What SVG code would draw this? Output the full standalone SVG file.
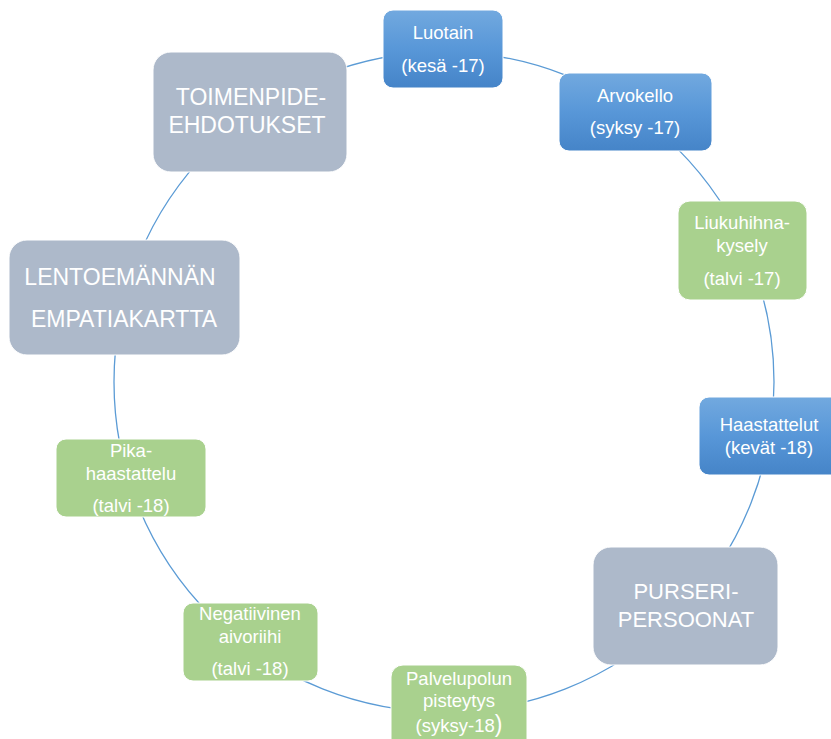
<svg xmlns="http://www.w3.org/2000/svg" width="831" height="739" viewBox="0 0 831 739">
  <defs>
    <linearGradient id="blueFill" x1="0" y1="0" x2="0" y2="1">
      <stop offset="0" stop-color="#72a9df"/>
      <stop offset="0.5" stop-color="#5897d8"/>
      <stop offset="1" stop-color="#4584c8"/>
    </linearGradient>
    <style>
      .blue { fill: url(#blueFill); stroke: #ffffff; stroke-width: 1; }
      .green { fill: #a9d18e; stroke: #ffffff; stroke-width: 1; }
      .gray { fill: #adb9ca; stroke: #ffffff; stroke-width: 1; }
      .sm { font-family: "Liberation Sans", Arial, sans-serif; font-size: 18.5px; fill: #ffffff; text-anchor: middle; }
      .lg { font-family: "Liberation Sans", Arial, sans-serif; font-size: 23px; fill: #ffffff; text-anchor: middle; }
      .ring { fill: none; stroke: #5b9bd5; stroke-width: 1.3; }
    </style>
  </defs>
  <rect width="831" height="739" fill="#ffffff"/>

  <!-- cycle connector drawn as one ring behind the nodes -->
  <g id="connectors">
    <circle class="ring" cx="444" cy="382" r="330"/>
  </g>

  <g id="luotain">
    <rect class="blue" x="383" y="10" width="120" height="78" rx="10"/>
    <text class="sm" x="443" y="39">Luotain</text>
    <text class="sm" x="443" y="72">(kesä -17)</text>
  </g>

  <g id="arvokello">
    <rect class="blue" x="559" y="73" width="153" height="78" rx="10"/>
    <text class="sm" x="635" y="102">Arvokello</text>
    <text class="sm" x="635" y="134">(syksy -17)</text>
  </g>

  <g id="liukuhihna">
    <rect class="green" x="678" y="201" width="129" height="99" rx="12"/>
    <text class="sm" x="742" y="229">Liukuhihna-</text>
    <text class="sm" x="742" y="252">kysely</text>
    <text class="sm" x="742" y="285">(talvi -17)</text>
  </g>

  <g id="haastattelut">
    <rect class="blue" x="699" y="397" width="142" height="78" rx="10"/>
    <text class="sm" x="769" y="431">Haastattelut</text>
    <text class="sm" x="769" y="454">(kevät -18)</text>
  </g>

  <g id="purseri">
    <rect class="gray" x="593" y="547" width="185" height="118" rx="18"/>
    <text class="lg" x="686" y="599" style="font-size:22px">PURSERI-</text>
    <text class="lg" x="686" y="627" style="font-size:22px">PERSOONAT</text>
  </g>

  <g id="palvelupolun">
    <rect class="green" x="391" y="665" width="136" height="90" rx="12"/>
    <text class="sm" x="459" y="685">Palvelupolun</text>
    <text class="sm" x="459" y="707">pisteytys</text>
    <text class="sm" x="459" y="732">(syksy-18<tspan style="font-size:23px">)</tspan></text>
  </g>

  <g id="negatiivinen">
    <rect class="green" x="183" y="603" width="135" height="78" rx="10"/>
    <text class="sm" x="250" y="620">Negatiivinen</text>
    <text class="sm" x="250" y="643">aivoriihi</text>
    <text class="sm" x="250" y="675">(talvi -18)</text>
  </g>

  <g id="pika">
    <rect class="green" x="56" y="439" width="150" height="78" rx="10"/>
    <text class="sm" x="131" y="457">Pika-</text>
    <text class="sm" x="131" y="480">haastattelu</text>
    <text class="sm" x="131" y="512">(talvi -18)</text>
  </g>

  <g id="lentoemannan">
    <rect class="gray" x="9" y="240" width="231" height="115" rx="18"/>
    <text class="lg" x="120" y="285">LENTOEMÄNNÄN</text>
    <text class="lg" x="124" y="327">EMPATIAKARTTA</text>
  </g>

  <g id="toimenpide">
    <rect class="gray" x="153" y="52" width="194" height="120" rx="18"/>
    <text class="lg" x="251" y="105">TOIMENPIDE-</text>
    <text class="lg" x="247" y="133">EHDOTUKSET</text>
  </g>
</svg>
